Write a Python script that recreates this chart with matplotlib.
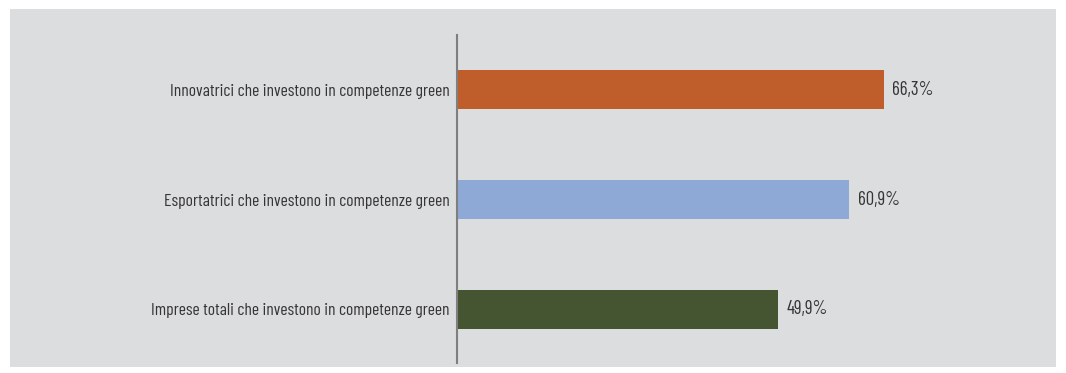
import matplotlib.pyplot as plt
from matplotlib.patches import Rectangle

categorie = ['Innovatrici che investono in competenze green',
             'Esportatrici che investono in competenze green',
             'Imprese totali che investono in competenze green']
valori = [66.3, 60.9, 49.9]
etichette = ['66,3%', '60,9%', '49,9%']
colori = ['#c05e2b', '#8fa9d7', '#465531']

plt.rcParams['font.family'] = ['Barlow Condensed', 'DejaVu Sans']

fig = plt.figure(figsize=(10.66, 3.73), dpi=100)
fig.patches.append(Rectangle((10/1066, 6/373), 1046/1066, 358/373,
                             transform=fig.transFigure, facecolor='#dcdddf',
                             edgecolor='none', zorder=-10))

ax = fig.add_axes([457/1066, 10/373, 583/1066, 328/373])
ax.patch.set_alpha(0)
y = range(len(categorie))
ax.barh(y, valori, height=0.355, color=colori)
for i, (v, t) in enumerate(zip(valori, etichette)):
    ax.text(v + 1.3, i, t, va='center', ha='left', fontsize=13.6, color='#353535')

ax.set_ylim(2.49, -0.5)
ax.set_xlim(0, 90.5)
ax.set_yticks(list(y))
ax.set_yticklabels(categorie, fontsize=12.6, color='#353535')
ax.tick_params(axis='y', length=0, pad=5.5)
ax.set_xticks([])
for s in ['top', 'right', 'bottom']:
    ax.spines[s].set_visible(False)
ax.spines['left'].set_color('#7f7f7f')
ax.spines['left'].set_linewidth(1.5)

fig.savefig('out.png', dpi=100)
